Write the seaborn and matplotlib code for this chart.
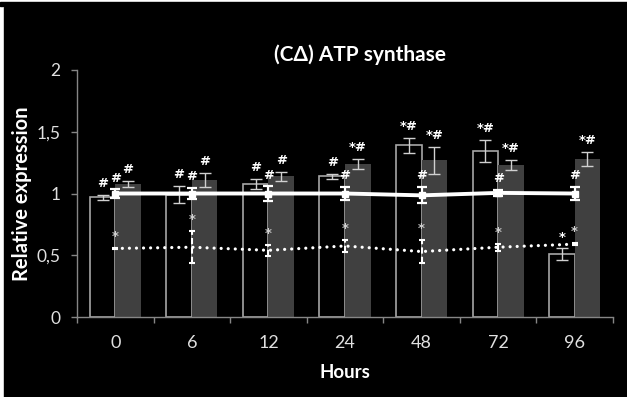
import numpy as np
import pandas as pd
import seaborn as sns
from matplotlib import pyplot as plt
from matplotlib.patches import Rectangle

# values
hours = ["0", "6", "12", "24", "48", "72", "96"]
ctrl_bar = [0.97, 0.99, 1.075, 1.14, 1.39, 1.345, 0.51]
ctrl_err = [0.02, 0.07, 0.04, 0.02, 0.06, 0.09, 0.045]
treat_bar = [1.08, 1.11, 1.14, 1.24, 1.27, 1.23, 1.28]
treat_err = [0.025, 0.06, 0.035, 0.04, 0.11, 0.04, 0.055]
solid_line = [1.0, 1.0, 1.0, 1.0, 0.985, 1.005, 1.0]
solid_err = [0.033, 0.048, 0.057, 0.05, 0.065, 0.027, 0.05]
dotted_line = [0.555, 0.565, 0.54, 0.575, 0.53, 0.565, 0.59]
dotted_err = [0.005, 0.13, 0.045, 0.047, 0.095, 0.03, 0.01]

ctrl_marks = ["#", "#", "#", "#", "*#", "*#", "*"]
solid_marks = ["#", "#", "#", "#", "#", "#", "#"]
treat_marks = ["#", "#", "#", "*#", "*#", "*#", "*#"]
dotted_marks = ["*", "*", "*", "*", "*", "*", "*"]

yticks = [0, 0.5, 1, 1.5, 2]
ytick_labels = ["0", "0,5", "1", "1,5", "2"]

sns.set_theme(style="ticks")
plt.rcParams["font.family"] = ["Lato", "DejaVu Sans"]

W, H = 627, 397
fig = plt.figure(figsize=(W / 100, H / 100), dpi=100, facecolor="white")
# black panel with the thin black rule above it
fig.add_artist(Rectangle((4 / W, 0), 1, 1 - 7.3 / H, transform=fig.transFigure,
                         color="black", zorder=-10))
fig.add_artist(Rectangle((0, 1 - 5.7 / H), 1, 4 / H, transform=fig.transFigure,
                         color="black", zorder=-10))

ax = fig.add_axes([77 / W, 1 - 317 / H, 536 / W, 247 / H])
ax.set_facecolor("black")

df = pd.DataFrame({
    "hour": hours * 2,
    "group": ["ctrl"] * len(hours) + ["treat"] * len(hours),
    "value": ctrl_bar + treat_bar,
})
sns.barplot(data=df, x="hour", y="value", hue="group", order=hours,
            hue_order=["ctrl", "treat"],
            palette={"ctrl": "black", "treat": "#404040"},
            saturation=1, width=0.667, gap=0, errorbar=None, legend=False, ax=ax)

ctrl_patches = ax.containers[0]
treat_patches = ax.containers[1]
for p in ctrl_patches:
    p.set_edgecolor("#A6A6A6")
    p.set_linewidth(1.2)
for p in treat_patches:
    p.set_edgecolor("none")
    p.set_linewidth(0)

ctrl_x = [p.get_x() + p.get_width() / 2 for p in ctrl_patches]
treat_x = [p.get_x() + p.get_width() / 2 for p in treat_patches]
pos = np.arange(len(hours))

ax.errorbar(ctrl_x, ctrl_bar, yerr=ctrl_err, fmt="none", ecolor="#D0D0D0",
            elinewidth=1, capsize=4, capthick=1, zorder=3)
ax.errorbar(treat_x, treat_bar, yerr=treat_err, fmt="none", ecolor="#D0D0D0",
            elinewidth=1, capsize=4, capthick=1, zorder=3)

# control lines drawn over the bars
ax.errorbar(pos, solid_line, yerr=solid_err, color="white", lw=2.8,
            marker="s", markersize=4, elinewidth=1.6, capsize=3.5, capthick=1.6,
            zorder=5)
ax.plot(pos, dotted_line, color="white", lw=2.3, linestyle=(0, (0.01, 2.2)),
        dash_capstyle="round", zorder=5)
eb = ax.errorbar(pos, dotted_line, yerr=dotted_err, fmt="none", ecolor="white",
                 elinewidth=1.5, capsize=2.5, capthick=1.5, zorder=5)
eb[2][0].set_linestyle((0, (3, 1.5)))


def mark(xs, tops, labels, color):
    for x, top, lab in zip(xs, tops, labels):
        if lab:
            ax.annotate(lab, xy=(x, top), xytext=(0, 3.5), textcoords="offset points",
                        ha="center", va="bottom", fontsize=9.5, fontweight="bold",
                        color=color, family="DejaVu Sans", zorder=6)


mark(ctrl_x, np.add(ctrl_bar, ctrl_err), ctrl_marks, "white")
mark(pos, np.add(solid_line, solid_err), solid_marks, "white")
mark(treat_x, np.add(treat_bar, treat_err), treat_marks, "white")
mark(pos, np.add(dotted_line, dotted_err), dotted_marks, "#D0D0D0")

ax.set_xlim(-0.5, len(hours) - 0.5)
ax.set_ylim(0, 2)
ax.set_yticks(yticks)
ax.set_yticklabels(ytick_labels)
ax.set_xticks(pos)
ax.set_xticklabels(hours)
ax.set_xticks(np.arange(-0.5, len(hours), 1), minor=True)

for side in ["top", "right"]:
    ax.spines[side].set_visible(False)
for side in ["left", "bottom"]:
    ax.spines[side].set_color("#868686")
    ax.spines[side].set_linewidth(1)

ax.tick_params(axis="x", which="major", length=0, pad=13, labelsize=13,
               labelcolor="#E0E0E0")
ax.tick_params(axis="x", which="minor", length=4, width=1, color="#868686")
ax.tick_params(axis="y", length=4, width=1, color="#868686", pad=8,
               labelsize=12.5, labelcolor="#E0E0E0")

ax.set_xlabel("Hours", color="white", fontsize=13.5, fontweight="bold", labelpad=9.5)
ax.set_ylabel("Relative expression", color="white", fontsize=14.5,
              fontweight="bold", labelpad=3)
fig.text(360 / W, 1 - 55 / H, "(C\u0394) ATP synthase", color="white",
         fontsize=15, fontweight="bold", ha="center", va="center")

fig.savefig("out.png", dpi=100, facecolor=fig.get_facecolor())
